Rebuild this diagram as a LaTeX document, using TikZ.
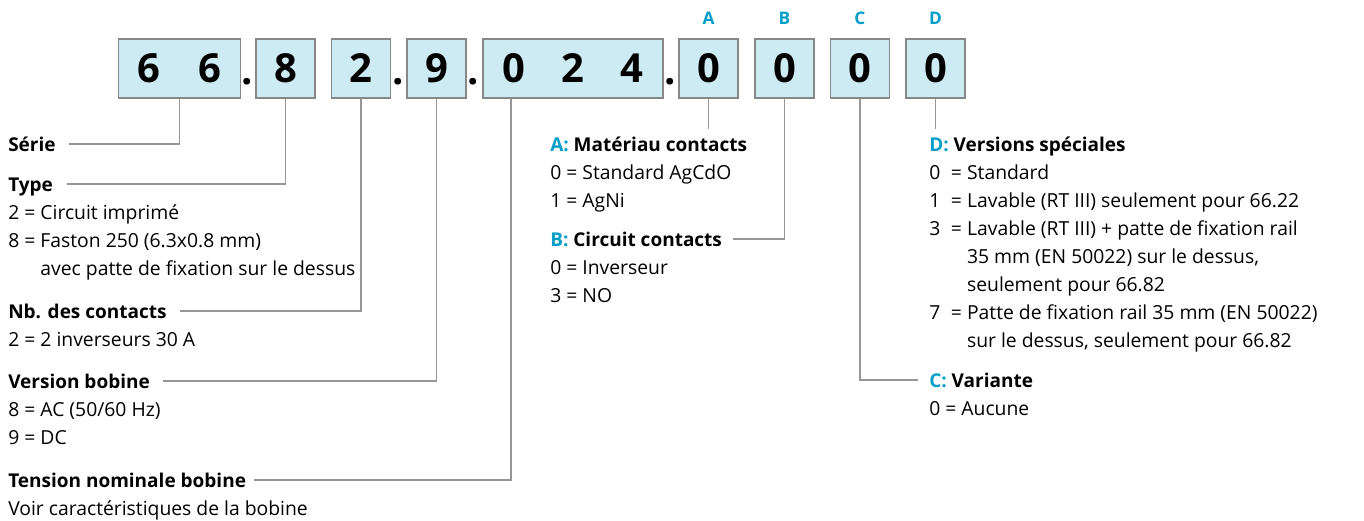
\documentclass[tikz,border=0pt]{standalone}
\usepackage{fontspec}
\setmainfont{Open Sans}
\usepackage{tikz}
\usetikzlibrary{positioning}
\definecolor{boxfill}{RGB}{205,235,243}
\definecolor{boxline}{RGB}{135,135,135}
\definecolor{wiregray}{RGB}{150,150,150}
\definecolor{codecol}{RGB}{0,158,200}

\begin{document}
\begin{tikzpicture}[x=0.75pt,y=-0.75pt,
	digitbox/.style={draw=boxline, fill=boxfill, line width=1pt, minimum width=44.25pt, minimum height=44.25pt, inner sep=0pt, font=\fontsize{30}{30}\selectfont\bfseries},
	dot/.style={inner sep=0pt, anchor=base, font=\fontsize{30}{30}\selectfont\bfseries},
	letter/.style={inner sep=0pt, text=codecol, font=\fontsize{13}{13}\selectfont\bfseries},
	head/.style={inner sep=0pt, text height=10.5pt, text depth=0pt, anchor=base west, font=\fontsize{14.25}{21}\selectfont\bfseries},
	list/.style={inner sep=0pt, align=left, font=\fontsize{14.5}{21}\selectfont},
	wire/.style={draw=wiregray, line width=0.9pt}]
	\useasboundingbox (0,0) rectangle (1364,521);
	
	% code boxes
	\node[digitbox, minimum width=89.25pt] (b66) at (179.5,68.5) {\makebox[45.75pt]{6}\makebox[45.75pt]{6}};
	\node[digitbox] (b8) at (285.5,68.5) {8};
	\node[digitbox] (b2) at (361,68.5) {2};
	\node[digitbox] (b9) at (436.5,68.5) {9};
	\node[digitbox, minimum width=135pt] (b024) at (573,68.5) {\makebox[44.5pt]{0}\makebox[44.5pt]{2}\makebox[44.5pt]{4}};
	\node[digitbox] (bA) at (708.5,68.5) {0};
	\node[digitbox] (bB) at (784.5,68.5) {0};
	\node[digitbox] (bC) at (860,68.5) {0};
	\node[digitbox] (bD) at (935.5,68.5) {0};
	
	\node[dot] (dot1) at (247,84) {.};
	\node[dot] (dot2) at (398,84) {.};
	\node[dot] (dot3) at (473,84) {.};
	\node[dot] (dot4) at (670,84) {.};
	
	\node[letter, above=10pt of bA] (lA) {A};
	\node[letter, above=10pt of bB] (lB) {B};
	\node[letter, above=10pt of bC] (lC) {C};
	\node[letter, above=10pt of bD] (lD) {D};
	
	% left column
	\node[head] (serie) at (8,151) {Série};
	\node[head] (type) at (8,191) {Type};
	\node[list, below=6.3pt of type.south west, anchor=north west] (typelist) {\strut 2 = Circuit imprimé\\8 = Faston 250 (6.3x0.8 mm)\\\phantom{8 = }avec patte de fixation sur le dessus};
	\node[head] (nbc) at (8,318) {Nb. des contacts};
	\node[list, below=6.3pt of nbc.south west, anchor=north west] (nbclist) {\strut 2 = 2 inverseurs 30 A};
	\node[head] (vbob) at (8,388) {Version bobine};
	\node[list, below=6.3pt of vbob.south west, anchor=north west] (vboblist) {\strut 8 = AC (50/60 Hz)\\9 = DC};
	\node[head] (tens) at (8,487) {Tension nominale bobine};
	\node[list, below=6.3pt of tens.south west, anchor=north west] (tenslist) {\strut Voir caractéristiques de la bobine};
	
	% middle column
	\node[head] (matA) at (550,151) {\textcolor{codecol}{A:} Matériau contacts};
	\node[list, below=6.3pt of matA.south west, anchor=north west] (matAlist) {\strut 0 = Standard AgCdO\\1 = AgNi};
	\node[head] (circB) at (550,246) {\textcolor{codecol}{B:} Circuit contacts};
	\node[list, below=6.3pt of circB.south west, anchor=north west] (circBlist) {\strut 0 = Inverseur\\3 = NO};
	
	% right column
	\node[head] (versD) at (929,151) {\textcolor{codecol}{D:} Versions spéciales};
	\node[list, below=6.3pt of versD.south west, anchor=north west] (versDlist) {\strut 0\hspace{8pt}= Standard\\1\hspace{8pt}= Lavable (RT III) seulement pour 66.22\\3\hspace{8pt}= Lavable (RT III) + patte de fixation rail\\\phantom{3\hspace{8pt}= }35 mm (EN 50022) sur le dessus,\\\phantom{3\hspace{8pt}= }seulement pour 66.82\\7\hspace{8pt}= Patte de fixation rail 35 mm (EN 50022)\\\phantom{7\hspace{8pt}= }sur le dessus, seulement pour 66.82};
	\node[head] (varC) at (929,387) {\textcolor{codecol}{C:} Variante};
	\node[list, below=6.3pt of varC.south west, anchor=north west] (varClist) {\strut 0 = Aucune};
	
	% connectors
	\coordinate (t024) at ([xshift=-46.5pt]b024.south);
	\draw[wire] (b66.south) |- ([xshift=10pt]serie.east);
	\draw[wire] (b8.south) |- ([xshift=10pt]type.east);
	\draw[wire] (b2.south) |- ([xshift=10pt]nbc.east);
	\draw[wire] (b9.south) |- ([xshift=10pt]vbob.east);
	\draw[wire] (t024) |- ([xshift=6pt]tens.east);
	\draw[wire] (bA.south) -- ([yshift=6pt]bA.south |- matA.north);
	\draw[wire] (bB.south) |- ([xshift=8pt]circB.east);
	\draw[wire] (bC.south) |- ([xshift=-8pt]varC.west);
	\draw[wire] (bD.south) -- ([yshift=6pt]bD.south |- versD.north);
\end{tikzpicture}
\end{document}
